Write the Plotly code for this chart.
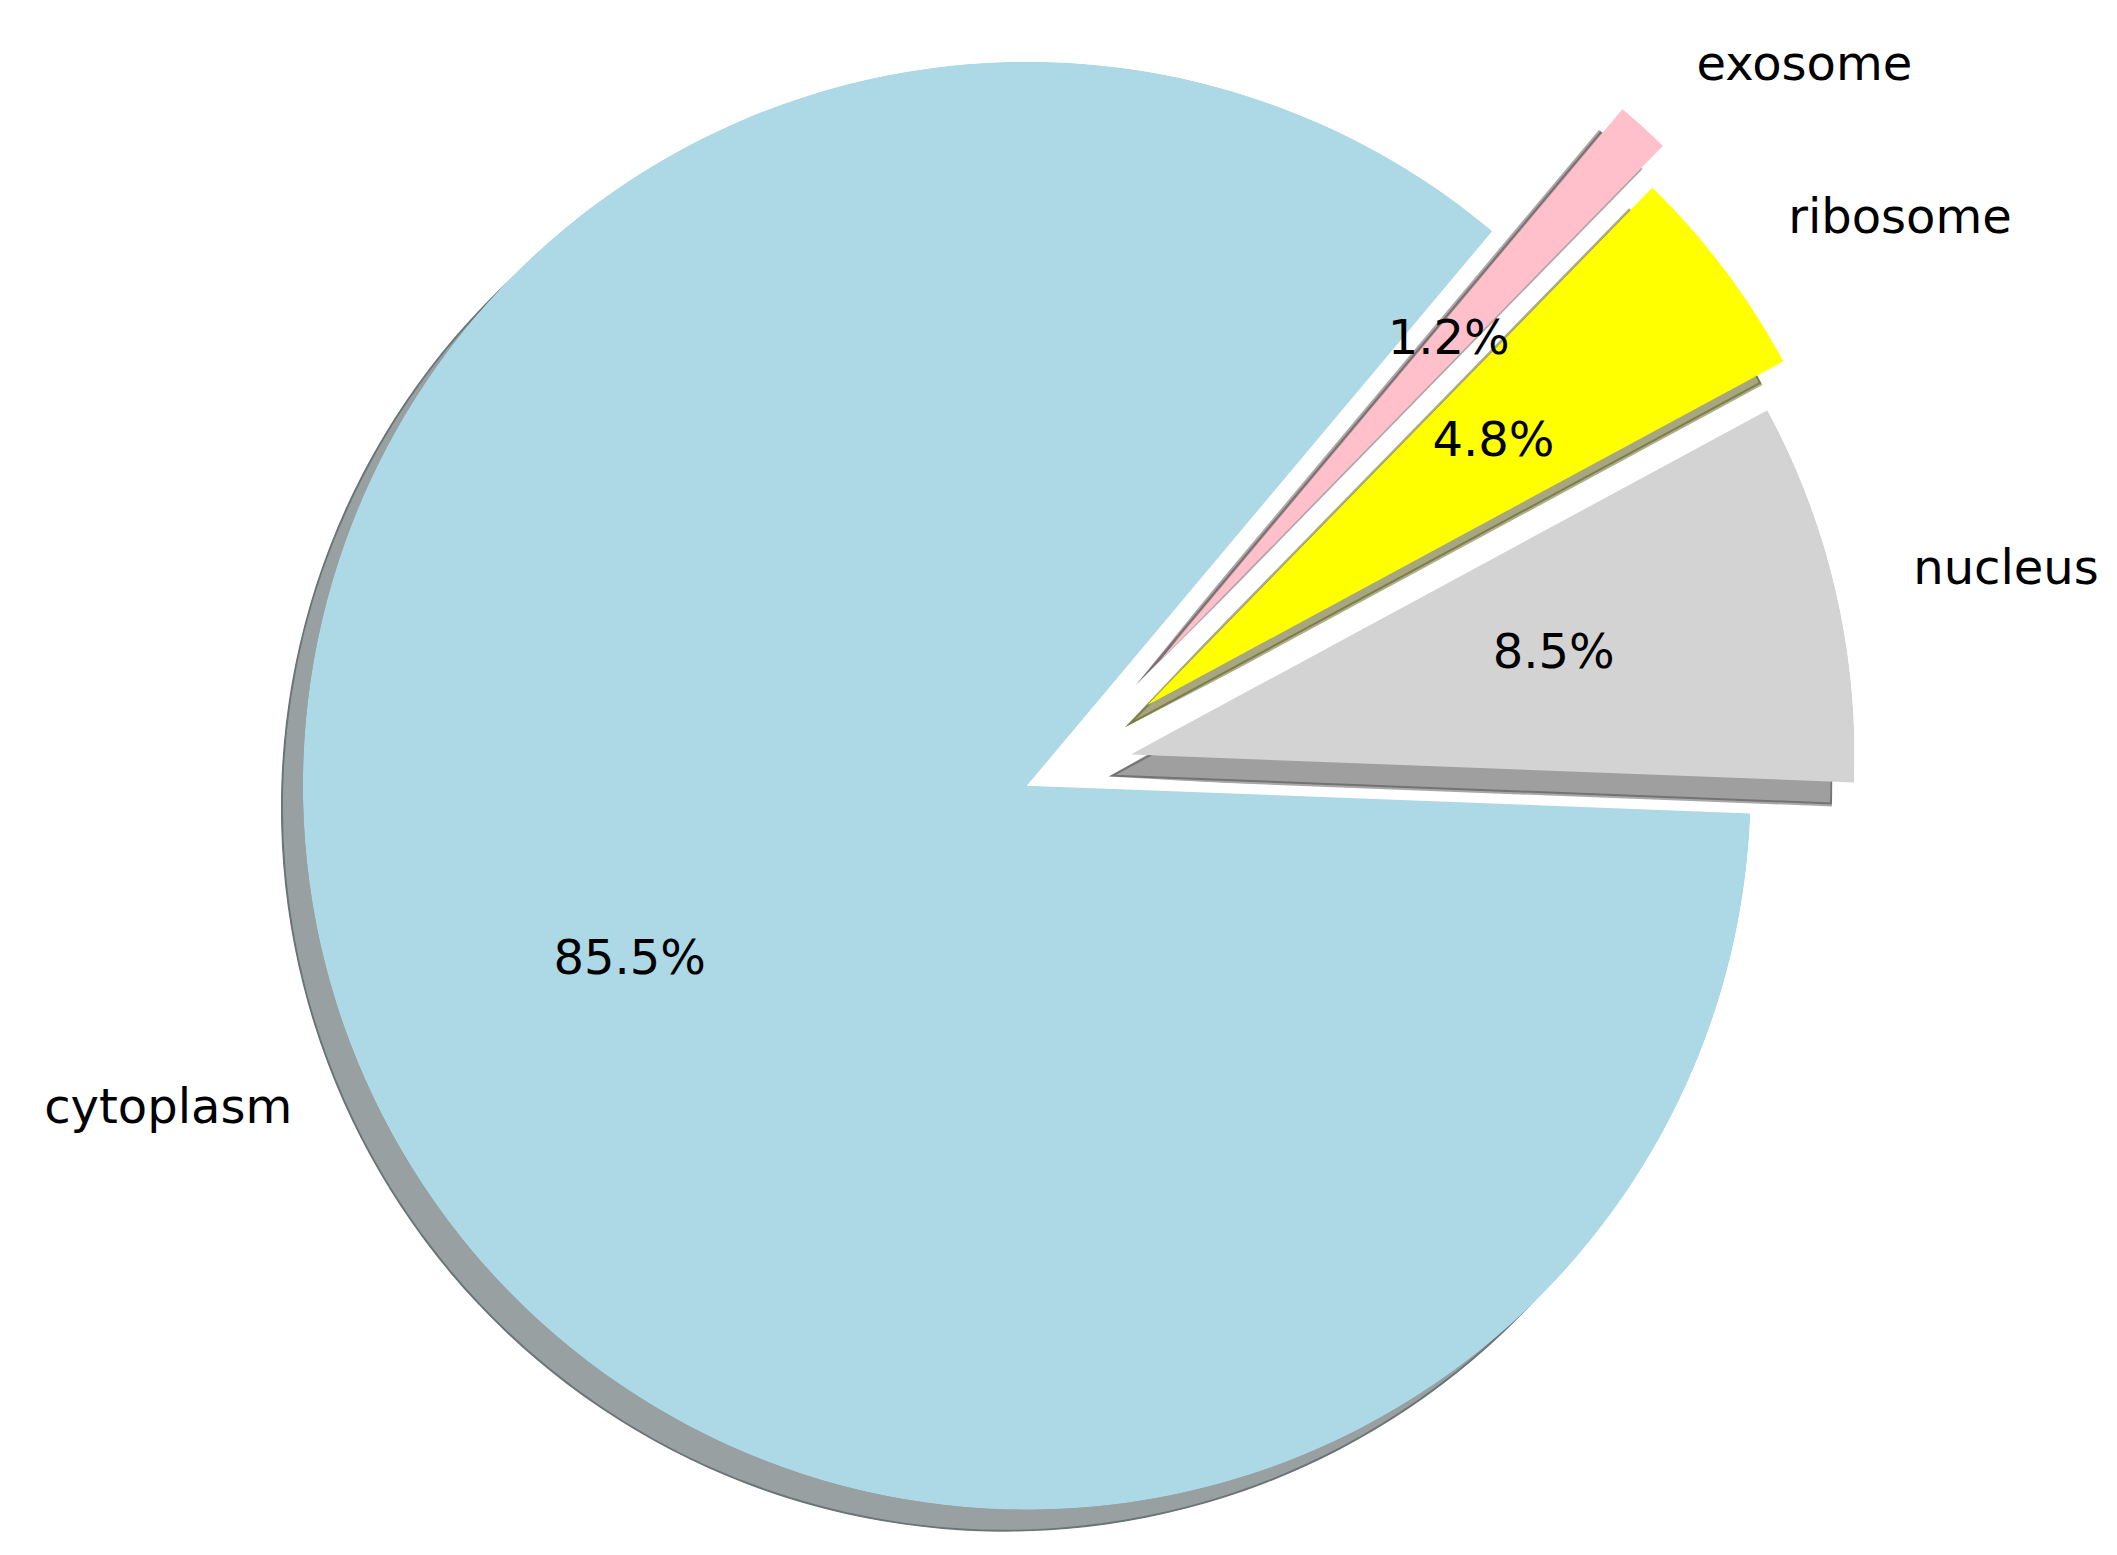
import math
import plotly.graph_objects as go

# data
labels = ['cytoplasm', 'nucleus', 'ribosome', 'exosome']
values = [85.5, 8.5, 4.8, 1.2]
colors = ['#ADD8E6', '#D3D3D3', '#FFFF00', '#FFC0CB']
explode = [0.05, 0.1, 0.15, 0.2]

# geometry of the (matplotlib-style) exploded pie, in pixels of the page
W, H = 2117, 1555
BODY = 8  # default <body> margin of the html page
R_PX = 724
CX, CY = 1060 - BODY, 771 - BODY
SHADOW_DX, SHADOW_DY = -22, 22
START_ANGLE = 50
PAD = 1.0  # slack (deg) around each wedge so edges are not clipped by the sector
LABEL_R = 1.11
PCT_R = 0.6

total = sum(values)
spans = [v / total * 360 for v in values]
starts = []
a = START_ANGLE
for s in spans:
    starts.append(a)
    a += s


def shadow_rgb(hex_color):
    # matplotlib shadow: 0.3 * colour, alpha 0.5 over white
    r, g, b = (int(hex_color[i:i + 2], 16) for i in (1, 3, 5))
    dark = [0.3 * c for c in (r, g, b)]
    face = 'rgb(%d,%d,%d)' % tuple(round(0.5 * c + 127.5) for c in dark)
    edge = 'rgba(%d,%d,%d,0.45)' % tuple(round(c) for c in dark)
    return face, edge


def sector_bbox(s0, s1):
    # same rules as plotly.js polar computeSectorBBox
    arc = s1 - s0
    if arc >= 360:
        return (-1, -1, 1, 1)
    a0 = s0 % 360
    a1 = a0 + arc
    ax0, ay0 = math.cos(math.radians(a0)), math.sin(math.radians(a0))
    ax1, ay1 = math.cos(math.radians(a1)), math.sin(math.radians(a1))
    if (a0 <= 90 and a1 >= 90) or (a0 > 90 and a1 >= 450):
        y1 = 1
    elif ay0 <= 0 and ay1 <= 0:
        y1 = 0
    else:
        y1 = max(ay0, ay1)
    if (a0 <= 180 and a1 >= 180) or (a0 > 180 and a1 >= 540):
        x0 = -1
    elif ax0 >= 0 and ax1 >= 0:
        x0 = 0
    else:
        x0 = min(ax0, ax1)
    if (a0 <= 270 and a1 >= 270) or (a0 > 270 and a1 >= 630):
        y0 = -1
    elif ay0 >= 0 and ay1 >= 0:
        y0 = 0
    else:
        y0 = min(ay0, ay1)
    if a1 >= 360:
        x1 = 1
    elif ax0 <= 0 and ax1 <= 0:
        x1 = 0
    else:
        x1 = max(ax0, ax1)
    return (x0, y0, x1, y1)


def polar_layout(cx, cy, sector, rmax=1.0):
    rad = R_PX * rmax
    x0, y0, x1, y1 = sector_bbox(*sector)
    left, right = cx + rad * x0, cx + rad * x1
    top, bottom = cy - rad * y1, cy - rad * y0
    return dict(
        domain=dict(x=[left / W, right / W], y=[1 - bottom / H, 1 - top / H]),
        sector=list(sector),
        hole=0,
        bgcolor='rgba(0,0,0,0)',
        radialaxis=dict(visible=False, range=[0, rmax], showgrid=False),
        angularaxis=dict(visible=False, rotation=0, direction='counterclockwise',
                         showgrid=False, showline=False, ticks=''),
    )


fig = go.Figure()
polars = {}
n = len(values)
font = dict(family='DejaVu Sans', size=48, color='black')

for i in range(n):
    mid = starts[i] + spans[i] / 2
    wcx = CX + explode[i] * R_PX * math.cos(math.radians(mid))
    wcy = CY - explode[i] * R_PX * math.sin(math.radians(mid))
    sector = (starts[i] - PAD, starts[i] + spans[i] + PAD)
    if spans[i] + 2 * PAD >= 360:
        sector = (0, 360)

    # shadow subplot (drawn first, under every wedge)
    sid = 'polar' if i == 0 else 'polar%d' % (i + 1)
    polars[sid] = polar_layout(wcx + SHADOW_DX, wcy + SHADOW_DY, sector)
    face, edge = shadow_rgb(colors[i])
    fig.add_trace(go.Barpolar(
        r=[1], theta=[mid], width=[spans[i]], base=0,
        marker=dict(color=face, line=dict(color=edge, width=4)),
        subplot=sid, hoverinfo='skip', showlegend=False
    ))

    # wedge subplot with its percentage
    wid = 'polar%d' % (i + 1 + n)
    polars[wid] = polar_layout(wcx, wcy, sector)
    fig.add_trace(go.Barpolar(
        r=[1], theta=[mid], width=[spans[i]], base=0,
        marker=dict(color=colors[i], line=dict(width=0)),
        subplot=wid, name=labels[i], showlegend=False,
        hovertemplate='%s: %.1f%%<extra></extra>' % (labels[i], values[i] / total * 100)
    ))
    fig.add_trace(go.Scatterpolar(
        r=[PCT_R], theta=[mid], mode='text',
        text=['%.1f%%' % (values[i] / total * 100)],
        textposition='middle center', textfont=font,
        cliponaxis=False, subplot=wid, hoverinfo='skip', showlegend=False
    ))

    # label subplot: same centre, radial range wide enough to hold the label
    lid = 'polar%d' % (i + 1 + 2 * n)
    polars[lid] = polar_layout(wcx, wcy, (mid - 1, mid + 1), rmax=LABEL_R + 0.02)
    side = 'middle right' if math.cos(math.radians(mid)) > 0 else 'middle left'
    fig.add_trace(go.Scatterpolar(
        r=[LABEL_R], theta=[mid], mode='text', text=[labels[i]],
        textposition=side, textfont=font,
        cliponaxis=False, subplot=lid, hoverinfo='skip', showlegend=False
    ))

fig.update_layout(
    width=W, height=H,
    margin=dict(l=0, r=0, t=0, b=0),
    paper_bgcolor='white',
    plot_bgcolor='white',
    showlegend=False,
    **polars
)

fig.write_html("out.html")
